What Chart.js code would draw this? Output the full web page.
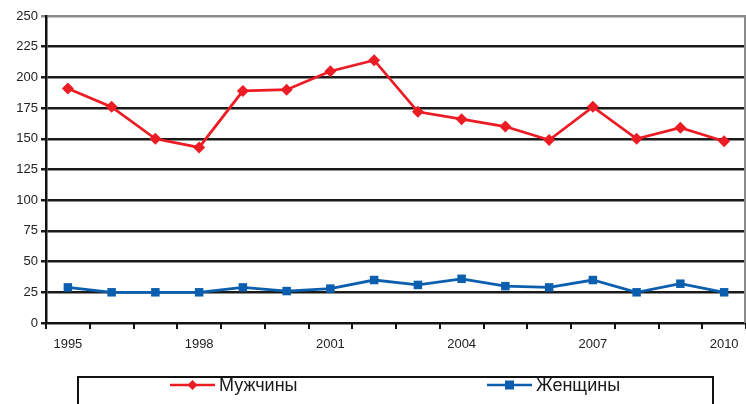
<!DOCTYPE html>
<html>
<head>
<meta charset="utf-8">
<script src="https://cdn.jsdelivr.net/npm/chart.js@4"></script>
<style>
  html, body { margin: 0; padding: 0; background: #fff; }
  #wrap { width: 746px; height: 404px; }
</style>
</head>
<body>
<div id="wrap"><canvas id="chart" width="746" height="404"></canvas></div>
<script>
const years = ['1995', '1996', '1997', '1998', '1999', '2000', '2001', '2002',
               '2003', '2004', '2005', '2006', '2007', '2008', '2009', '2010'];
const men = [191, 176, 150, 143, 189, 190, 205, 214, 172, 166, 160, 149, 176, 150, 159, 148];
const women = [29, 25, 25, 25, 29, 26, 28, 35, 31, 36, 30, 29, 35, 25, 32, 25];
const menLabel = 'Мужчины';
const womenLabel = 'Женщины';
const yTicks = [0, 25, 50, 75, 100, 125, 150, 175, 200, 225, 250];

const FONT = '"Liberation Sans", Arial, sans-serif';
const RED = '#ec1c24';
const BLUE = '#0b5fae';

// frame on the right + legend box drawn by hand
const framePlugin = {
    id: 'frame',
    afterDraw(chart) {
        const ctx = chart.ctx;
        const a = chart.chartArea;
        ctx.save();
        ctx.strokeStyle = '#8a8a8a';
        ctx.lineWidth = 2;
        ctx.beginPath();
        ctx.moveTo(a.right - 1, a.top);
        ctx.lineTo(a.right - 1, a.bottom);
        ctx.stroke();

        // legend box
        ctx.strokeStyle = '#111';
        ctx.lineWidth = 2;
        ctx.beginPath();
        ctx.moveTo(78, 410);
        ctx.lineTo(78, 377);
        ctx.lineTo(713, 377);
        ctx.lineTo(713, 410);
        ctx.stroke();

        const items = [
            { x: 170, label: menLabel, color: RED, style: 'rectRot' },
            { x: 487, label: womenLabel, color: BLUE, style: 'rect' }
        ];
        const y = 385;
        items.forEach(it => {
            ctx.strokeStyle = it.color;
            ctx.lineWidth = 2.5;
            ctx.beginPath();
            ctx.moveTo(it.x, y);
            ctx.lineTo(it.x + 45, y);
            ctx.stroke();
            ctx.fillStyle = it.color;
            const cx = it.x + 22.5;
            ctx.beginPath();
            if (it.style === 'rectRot') {
                ctx.moveTo(cx, y - 5);
                ctx.lineTo(cx + 5, y);
                ctx.lineTo(cx, y + 5);
                ctx.lineTo(cx - 5, y);
                ctx.closePath();
            } else {
                ctx.rect(cx - 4.5, y - 4.5, 9, 9);
            }
            ctx.fill();
            ctx.fillStyle = '#1a1a1a';
            ctx.font = '18px ' + FONT;
            ctx.textBaseline = 'middle';
            ctx.textAlign = 'left';
            ctx.fillText(it.label, it.x + 49, y + 1);
        });
        ctx.restore();
    }
};

const ctx = document.getElementById('chart').getContext('2d');
new Chart(ctx, {
    type: 'line',
    data: {
        labels: years,
        datasets: [
            {
                label: menLabel,
                data: men,
                borderColor: RED,
                backgroundColor: RED,
                borderWidth: 2.8,
                pointStyle: 'rectRot',
                pointRadius: 6,
                pointBorderWidth: 0,
                tension: 0,
                fill: false
            },
            {
                label: womenLabel,
                data: women,
                borderColor: BLUE,
                backgroundColor: BLUE,
                borderWidth: 2.8,
                pointStyle: 'rect',
                pointRadius: 6,
                pointBorderWidth: 0,
                tension: 0,
                fill: false
            }
        ]
    },
    options: {
        responsive: false,
        animation: false,
        layout: {
            autoPadding: false,
            padding: { top: 16, right: 0, left: 0, bottom: 0 }
        },
        plugins: {
            legend: { display: false },
            tooltip: { enabled: false }
        },
        scales: {
            x: {
                type: 'category',
                offset: true,
                grid: {
                    offset: true,
                    drawOnChartArea: false,
                    drawTicks: true,
                    tickLength: 6,
                    color: '#111',
                    lineWidth: 2
                },
                border: { color: '#111', width: 2 },
                ticks: {
                    autoSkip: false,
                    maxRotation: 0,
                    color: '#222',
                    font: { family: FONT, size: 13 },
                    padding: 8,
                    callback: (v, i) => (i % 3 === 0 ? years[i] : '')
                },
                afterFit: s => {
                    s.height = 81;
                    s.paddingLeft = 0;
                    s.paddingRight = 0;
                }
            },
            y: {
                min: 0,
                max: 250,
                afterBuildTicks: s => { s.ticks = yTicks.map(v => ({ value: v })); },
                grid: {
                    color: c => (c.tick && c.tick.value === 250 ? '#8a8a8a' : '#1a1a1a'),
                    lineWidth: 2.5,
                    tickLength: 5
                },
                border: { color: '#111', width: 2.5 },
                ticks: {
                    color: '#222',
                    font: { family: FONT, size: 13 },
                    padding: 3
                },
                afterFit: s => { s.width = 46; }
            }
        }
    },
    plugins: [framePlugin]
});
</script>
</body>
</html>
